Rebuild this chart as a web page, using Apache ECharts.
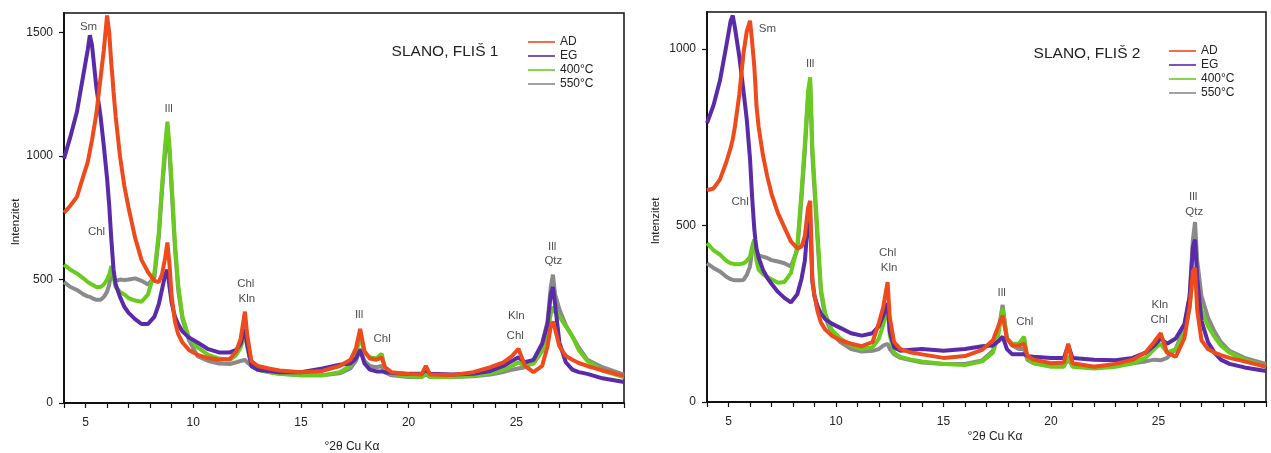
<!DOCTYPE html>
<html>
<head>
<meta charset="utf-8">
<title>SLANO, FLIŠ</title>
<script src="https://cdn.jsdelivr.net/npm/echarts@6/dist/echarts.min.js"></script>
<style>
html, body { margin: 0; padding: 0; background: #fff; }
#chart { width: 1271px; height: 453px; }
</style>
</head>
<body>
<div id="chart"></div>
<script>
// °2θ positions shared by every pattern
var twoTheta = [4.0, 4.3, 4.6, 4.9, 5.1, 5.2, 5.3, 5.5, 5.7, 5.85,
    6.0, 6.1, 6.2, 6.25, 6.3, 6.4, 6.6, 6.8, 7.0, 7.3,
    7.6, 7.9, 8.2, 8.4, 8.55, 8.7, 8.8, 8.9, 9.0, 9.15,
    9.3, 9.5, 9.8, 10.2, 10.7, 11.2, 11.7, 12.0, 12.2, 12.4,
    12.5, 12.7, 13.0, 13.5, 14, 15, 16, 16.8, 17.3, 17.55,
    17.75, 17.95, 18.2, 18.5, 18.75, 18.9, 19.2, 20, 20.6, 20.8,
    21.0, 22, 23, 23.8, 24.4, 24.8, 25.1, 25.4, 25.8, 26.2,
    26.45, 26.6, 26.7, 26.8, 27.0, 27.3, 27.6, 27.9, 28.3, 29,
    30];

var seriesNames = ['AD', 'EG', '400°C', '550°C'];
var seriesColors = ['#ee4a1b', '#5a2ba8', '#6acb1f', '#8a8a8a'];

// SLANO, FLIŠ 1
var flis1AD = [770, 800, 835, 920, 975, 1020, 1065, 1170, 1320, 1430,
    1570, 1500, 1370, 1320, 1260, 1160, 1000, 880, 790, 670,
    580, 530, 495, 490, 520, 590, 650, 560, 430, 330,
    280, 245, 215, 195, 182, 175, 178, 210, 260, 370,
    280, 170, 150, 140, 132, 125, 130, 150, 175, 220,
    300, 210, 180, 175, 185, 145, 125, 118, 115, 150,
    115, 113, 125, 145, 165, 190, 220, 150, 125, 150,
    230, 310, 330, 300, 230, 190, 175, 162, 150, 132,
    110];
var flis1EG = [990, 1080, 1180, 1330, 1430, 1490, 1450, 1280, 1160, 1040,
    910, 800, 660, 600, 540, 480, 430, 390, 365, 340,
    320, 320, 350, 400, 460, 520, 540, 470, 405, 350,
    320, 290, 265, 245, 218, 205, 205, 215, 240, 300,
    240, 150, 135, 130, 125, 125, 140, 155, 160, 180,
    215, 160, 135, 128, 128, 125, 122, 118, 118, 135,
    118, 115, 118, 130, 150, 170, 185, 165, 175, 240,
    320, 440, 470, 400, 245, 165, 135, 125, 118, 100,
    85];
var flis1T400 = [560, 540, 525, 505, 490, 485, 480, 470, 470, 480,
    500, 520, 555, 560, 510, 470, 450, 440, 425, 415,
    410, 440, 530, 690, 880, 1050, 1140, 1040, 890, 650,
    480, 350, 265, 225, 195, 180, 175, 195, 225, 280,
    230, 150, 135, 125, 118, 112, 112, 125, 150, 195,
    270, 205, 185, 180, 200, 140, 118, 108, 105, 125,
    105, 105, 110, 120, 135, 150, 165, 150, 160, 210,
    290, 360, 390, 370, 350, 310, 270, 215, 170, 130,
    105];
var flis1T550 = [490, 470, 458, 440, 432, 430, 425, 418, 418, 430,
    450, 480, 530, 540, 505, 495, 500, 498, 500, 505,
    495, 480, 510, 670, 860, 1020, 1100, 1010, 860, 630,
    460, 340, 255, 190, 170, 160, 158, 165, 170, 175,
    165, 150, 135, 125, 118, 112, 112, 120, 140, 170,
    220, 170, 150, 145, 150, 125, 112, 105, 105, 115,
    105, 105, 108, 115, 125, 135, 140, 145, 170, 240,
    330, 470, 520, 440, 380, 315, 270, 225, 175, 145,
    115];

// SLANO, FLIŠ 2
var flis2AD = [600, 605, 630, 680, 720, 745, 780, 870, 990, 1050,
    1080, 1020, 950, 900, 840, 780, 700, 640, 590, 535,
    495, 455, 435, 440, 470, 550, 570, 350, 300, 255,
    225, 205, 188, 175, 165, 158, 170, 225, 270, 340,
    240, 170, 150, 140, 135, 125, 130, 148, 175, 215,
    245, 180, 160, 160, 165, 130, 120, 110, 112, 165,
    110, 100, 108, 120, 140, 170, 195, 140, 128, 180,
    270, 370, 380, 260, 175, 150, 140, 133, 125, 115,
    100];
var flis2EG = [790, 840, 910, 1010, 1080, 1095, 1060, 980, 880, 800,
    690, 580, 490, 460, 435, 410, 375, 352, 335, 312,
    295, 282, 305, 350, 400, 510, 520, 340, 300, 270,
    250, 235, 222, 210, 195, 188, 195, 215, 245, 280,
    200, 155, 145, 148, 150, 145, 150, 158, 160, 172,
    185, 150, 135, 135, 135, 130, 128, 125, 125, 160,
    125, 120, 118, 125, 140, 160, 180, 165, 180, 220,
    300, 440, 460, 350, 230, 170, 140, 120, 108, 98,
    88];
var flis2T400 = [450, 430, 418, 400, 393, 392, 390, 390, 393, 400,
    412, 440, 460, 440, 400, 375, 362, 355, 348, 338,
    340, 365, 440, 600, 730, 880, 920, 720, 620, 470,
    320, 250, 205, 180, 160, 150, 155, 180, 220, 270,
    190, 140, 128, 120, 115, 108, 105, 115, 140, 190,
    265, 180, 165, 165, 185, 125, 110, 100, 100, 130,
    100, 95, 100, 110, 125, 150, 165, 140, 150, 195,
    270, 360, 380, 320, 260, 215, 185, 160, 140, 120,
    100];
var flis2T550 = [393, 380, 370, 355, 348, 346, 345, 345, 346, 360,
    384, 430, 459, 445, 425, 415, 412, 408, 402, 398,
    393, 384, 430, 580, 710, 860, 900, 700, 600, 450,
    310, 240, 195, 170, 150, 143, 145, 150, 160, 165,
    150, 135, 125, 118, 112, 108, 108, 118, 145, 200,
    275, 180, 160, 150, 150, 120, 110, 103, 103, 120,
    103, 100, 103, 110, 115, 120, 118, 125, 150, 210,
    300, 460, 510, 400, 300, 240, 200, 170, 145, 125,
    108];

// mineral labels: [text, °2θ, intensity]
var flis1Peaks = [['Sm', 5.14, 1526], ['Ill', 8.86, 1190], ['Chl', 5.51, 692],
    ['Chl', 12.44, 482], ['Kln', 12.49, 421], ['Ill', 17.7, 356], ['Chl', 18.77, 259],
    ['Kln', 25.0, 352], ['Chl', 24.95, 271], ['Ill', 26.67, 632], ['Qtz', 26.72, 575]];
var flis2Peaks = [['Sm', 6.81, 1056], ['Ill', 8.8, 959], ['Chl', 5.54, 568],
    ['Chl', 12.4, 423], ['Kln', 12.47, 381], ['Ill', 17.71, 308], ['Chl', 18.78, 226],
    ['Kln', 25.06, 275], ['Chl', 25.03, 232], ['Ill', 26.61, 582], ['Qtz', 26.66, 540]];

var yMax = [1580, 1105];
var FONT = '"Liberation Sans", Arial, sans-serif';

function pairs(ys) {
    return twoTheta.map(function(x, i) {
        return [x, ys[i]];
    });
}

function makeXAxis(idx) {
    return {
        type: 'value', gridIndex: idx, min: 4, max: 30, interval: 1,
        axisLine: { show: true, lineStyle: { color: '#111', width: 2 } },
        axisTick: { show: true, length: 5, lineStyle: { color: '#111', width: 1.2 } },
        axisLabel: {
            margin: 14, color: '#222', fontSize: 12, fontFamily: FONT,
            formatter: function(v) { return (v % 5 === 0 && v < 30) ? String(v) : ''; }
        },
        splitLine: { show: false }
    };
}

function makeYAxis(idx) {
    return {
        type: 'value', gridIndex: idx, min: 0, max: yMax[idx], interval: 500,
        axisLine: { show: true, lineStyle: { color: '#111', width: 2 } },
        axisTick: { show: true, length: 5, lineStyle: { color: '#111', width: 1.2 } },
        axisLabel: {
            margin: 11, color: '#222', fontSize: 12, fontFamily: FONT, showMaxLabel: false,
            formatter: function(v) { return String(v); }
        },
        splitLine: { show: false }
    };
}

function makeLines(idx, sets) {
    // drawn back to front: 550°C, 400°C, EG, AD
    var order = [3, 2, 1, 0];
    return order.map(function(k) {
        return {
            name: seriesNames[k], type: 'line', xAxisIndex: idx, yAxisIndex: idx,
            data: pairs(sets[k]), symbol: 'none', showSymbol: false,
            lineStyle: { color: seriesColors[k], width: 4 },
            itemStyle: { color: seriesColors[k] },
            silent: true, animation: false
        };
    });
}

function makeLabels(idx, peaks) {
    return {
        type: 'scatter', xAxisIndex: idx, yAxisIndex: idx, z: 5, silent: true, animation: false,
        symbolSize: 1, itemStyle: { color: 'transparent' },
        data: peaks.map(function(p) { return { name: p[0], value: [p[1], p[2]] }; }),
        label: { show: true, position: 'inside', formatter: '{b}', color: '#222', fontSize: 11.5, fontFamily: FONT }
    };
}

function makeLegend(left, top) {
    return {
        data: seriesNames.map(function(n) { return { name: n, icon: 'rect' }; }),
        orient: 'vertical', left: left, top: top, padding: 0,
        itemWidth: 27, itemHeight: 1.6, itemGap: 2, selectedMode: false,
        textStyle: { fontSize: 12, lineHeight: 12, color: '#222', fontFamily: FONT }
    };
}

function text(str, x, y, size, rot) {
    return {
        type: 'text', x: x, y: y, rotation: rot || 0, silent: true,
        style: { text: str, fill: '#222', font: size + 'px ' + FONT, align: 'center', verticalAlign: 'middle' }
    };
}

var chart = echarts.init(document.getElementById('chart'), null, { renderer: 'canvas' });
chart.setOption({
    animation: false,
    backgroundColor: '#fff',
    grid: [
        { left: 64, top: 13, width: 560, height: 390, show: true, borderColor: '#111', borderWidth: 1.5 },
        { left: 707, top: 12, width: 559, height: 390, show: true, borderColor: '#111', borderWidth: 1.5 }
    ],
    xAxis: [makeXAxis(0), makeXAxis(1)],
    yAxis: [makeYAxis(0), makeYAxis(1)],
    legend: [makeLegend(528, 36), makeLegend(1169, 45)],
    graphic: [
        text('SLANO, FLIŠ 1', 445, 52, 15.5),
        text('SLANO, FLIŠ 2', 1087, 54, 15.5),
        text('Intenzitet', 16, 222, 11.5, Math.PI / 2),
        text('Intenzitet', 656, 221, 11.5, Math.PI / 2),
        text('°2θ Cu Kα', 352, 447, 12),
        text('°2θ Cu Kα', 995, 437, 12)
    ],
    series: []
        .concat(makeLines(0, [flis1AD, flis1EG, flis1T400, flis1T550]))
        .concat(makeLines(1, [flis2AD, flis2EG, flis2T400, flis2T550]))
        .concat([makeLabels(0, flis1Peaks), makeLabels(1, flis2Peaks)])
});
</script>
</body>
</html>
